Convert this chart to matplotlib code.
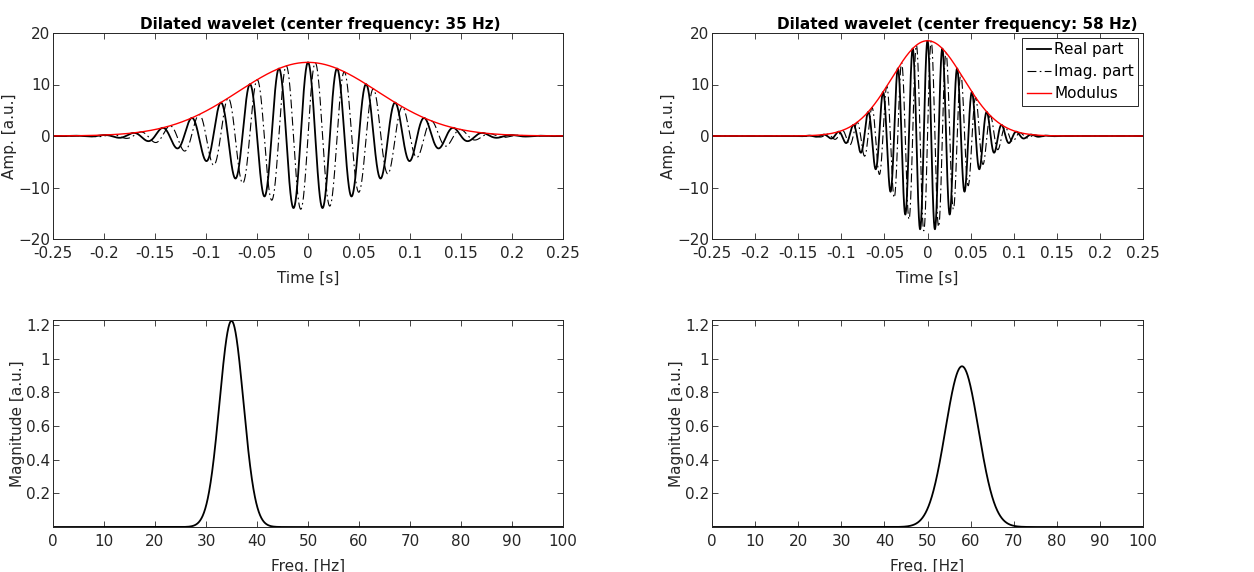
import numpy as np
import matplotlib
matplotlib.use("Agg")
import matplotlib.pyplot as plt

# values
center_freqs = [35, 58]          # Hz
peak_amps = [14.3, 18.5]         # time-domain envelope peak
sigma_t = [0.068, 0.0415]        # s, gaussian width of envelope
spec_peaks = [1.225, 0.955]      # spectrum magnitude peak
time_ticks = [-0.25, -0.2, -0.15, -0.1, -0.05, 0, 0.05, 0.1, 0.15, 0.2, 0.25]
time_ticklabels = ["-0.25", "-0.2", "-0.15", "-0.1", "-0.05", "0", "0.05", "0.1", "0.15", "0.2", "0.25"]
amp_ticks = [-20, -10, 0, 10, 20]
freq_ticks = list(range(0, 101, 10))
mag_ticks = [0.2, 0.4, 0.6, 0.8, 1.0, 1.2]
mag_ticklabels = ["0.2", "0.4", "0.6", "0.8", "1", "1.2"]

plt.rcParams['font.family'] = ['DejaVu Sans']
plt.rcParams['font.size'] = 11

fig = plt.figure(figsize=(12.54, 5.72), dpi=100)
W, H = 1254, 572
grey = "#262626"

def px_axes(l, t, r, b):
    return fig.add_axes([l / W, 1 - b / H, (r - l) / W, (b - t) / H])

def style(ax):
    ax.tick_params(direction="in", top=True, right=True, length=4, width=0.6,
                   colors=grey, labelsize=11)
    ax.tick_params(axis="x", pad=5)
    ax.tick_params(axis="y", pad=2)
    for s in ax.spines.values():
        s.set_linewidth(0.7)
        s.set_color(grey)

t = np.linspace(-0.25, 0.25, 4001)
f = np.linspace(0, 100, 2001)

lefts = [53, 712]
rights = [563, 1143]
title_x = [0.525, 0.568]

for i in range(2):
    fc = center_freqs[i]
    env = peak_amps[i] * np.exp(-t**2 / (2 * sigma_t[i]**2))
    re = env * np.cos(2 * np.pi * fc * t)
    im = env * np.sin(2 * np.pi * fc * t)

    ax = px_axes(lefts[i], 33, rights[i], 239)
    ax.plot(t, re, color="black", lw=1.3, label="Real part")
    ax.plot(t, im, color="black", lw=0.8, ls=(0, (8, 3, 1.5, 3)), label="Imag. part")
    ax.plot(t, env, color="red", lw=1.0, label="Modulus")
    ax.set_xlim(-0.25, 0.25)
    ax.set_ylim(-20, 20)
    ax.set_xticks(time_ticks)
    ax.set_xticklabels(time_ticklabels)
    ax.set_yticks(amp_ticks)
    ax.set_xlabel("Time [s]", color=grey, labelpad=7)
    ax.set_ylabel("Amp. [a.u.]", color=grey, labelpad=1)
    ax.set_title("Dilated wavelet (center frequency: %d Hz)" % fc, fontweight="bold",
                 fontsize=11, x=title_x[i], pad=3)
    style(ax)
    if i == 1:
        leg = ax.legend(loc="upper right", fancybox=False, framealpha=1, edgecolor=grey,
                        handlelength=1.6, handletextpad=0.2, borderpad=0.3,
                        labelspacing=0.45, borderaxespad=0.3, fontsize=11)
        leg.get_frame().set_linewidth(0.7)

    sf = 1 / (2 * np.pi * sigma_t[i])
    spec = spec_peaks[i] * np.exp(-(f - fc)**2 / (2 * sf**2))
    ax2 = px_axes(lefts[i], 320, rights[i], 527)
    ax2.plot(f, spec, color="black", lw=1.3)
    ax2.set_xlim(0, 100)
    ax2.set_ylim(0, spec_peaks[0] + 0.005)
    ax2.set_xticks(freq_ticks)
    ax2.set_yticks(mag_ticks)
    ax2.set_yticklabels(mag_ticklabels)
    ax2.set_xlabel("Freq. [Hz]", color=grey, labelpad=7)
    ax2.set_ylabel("Magnitude [a.u.]", color=grey, labelpad=1)
    style(ax2)

fig.savefig("out.png", dpi=100)
